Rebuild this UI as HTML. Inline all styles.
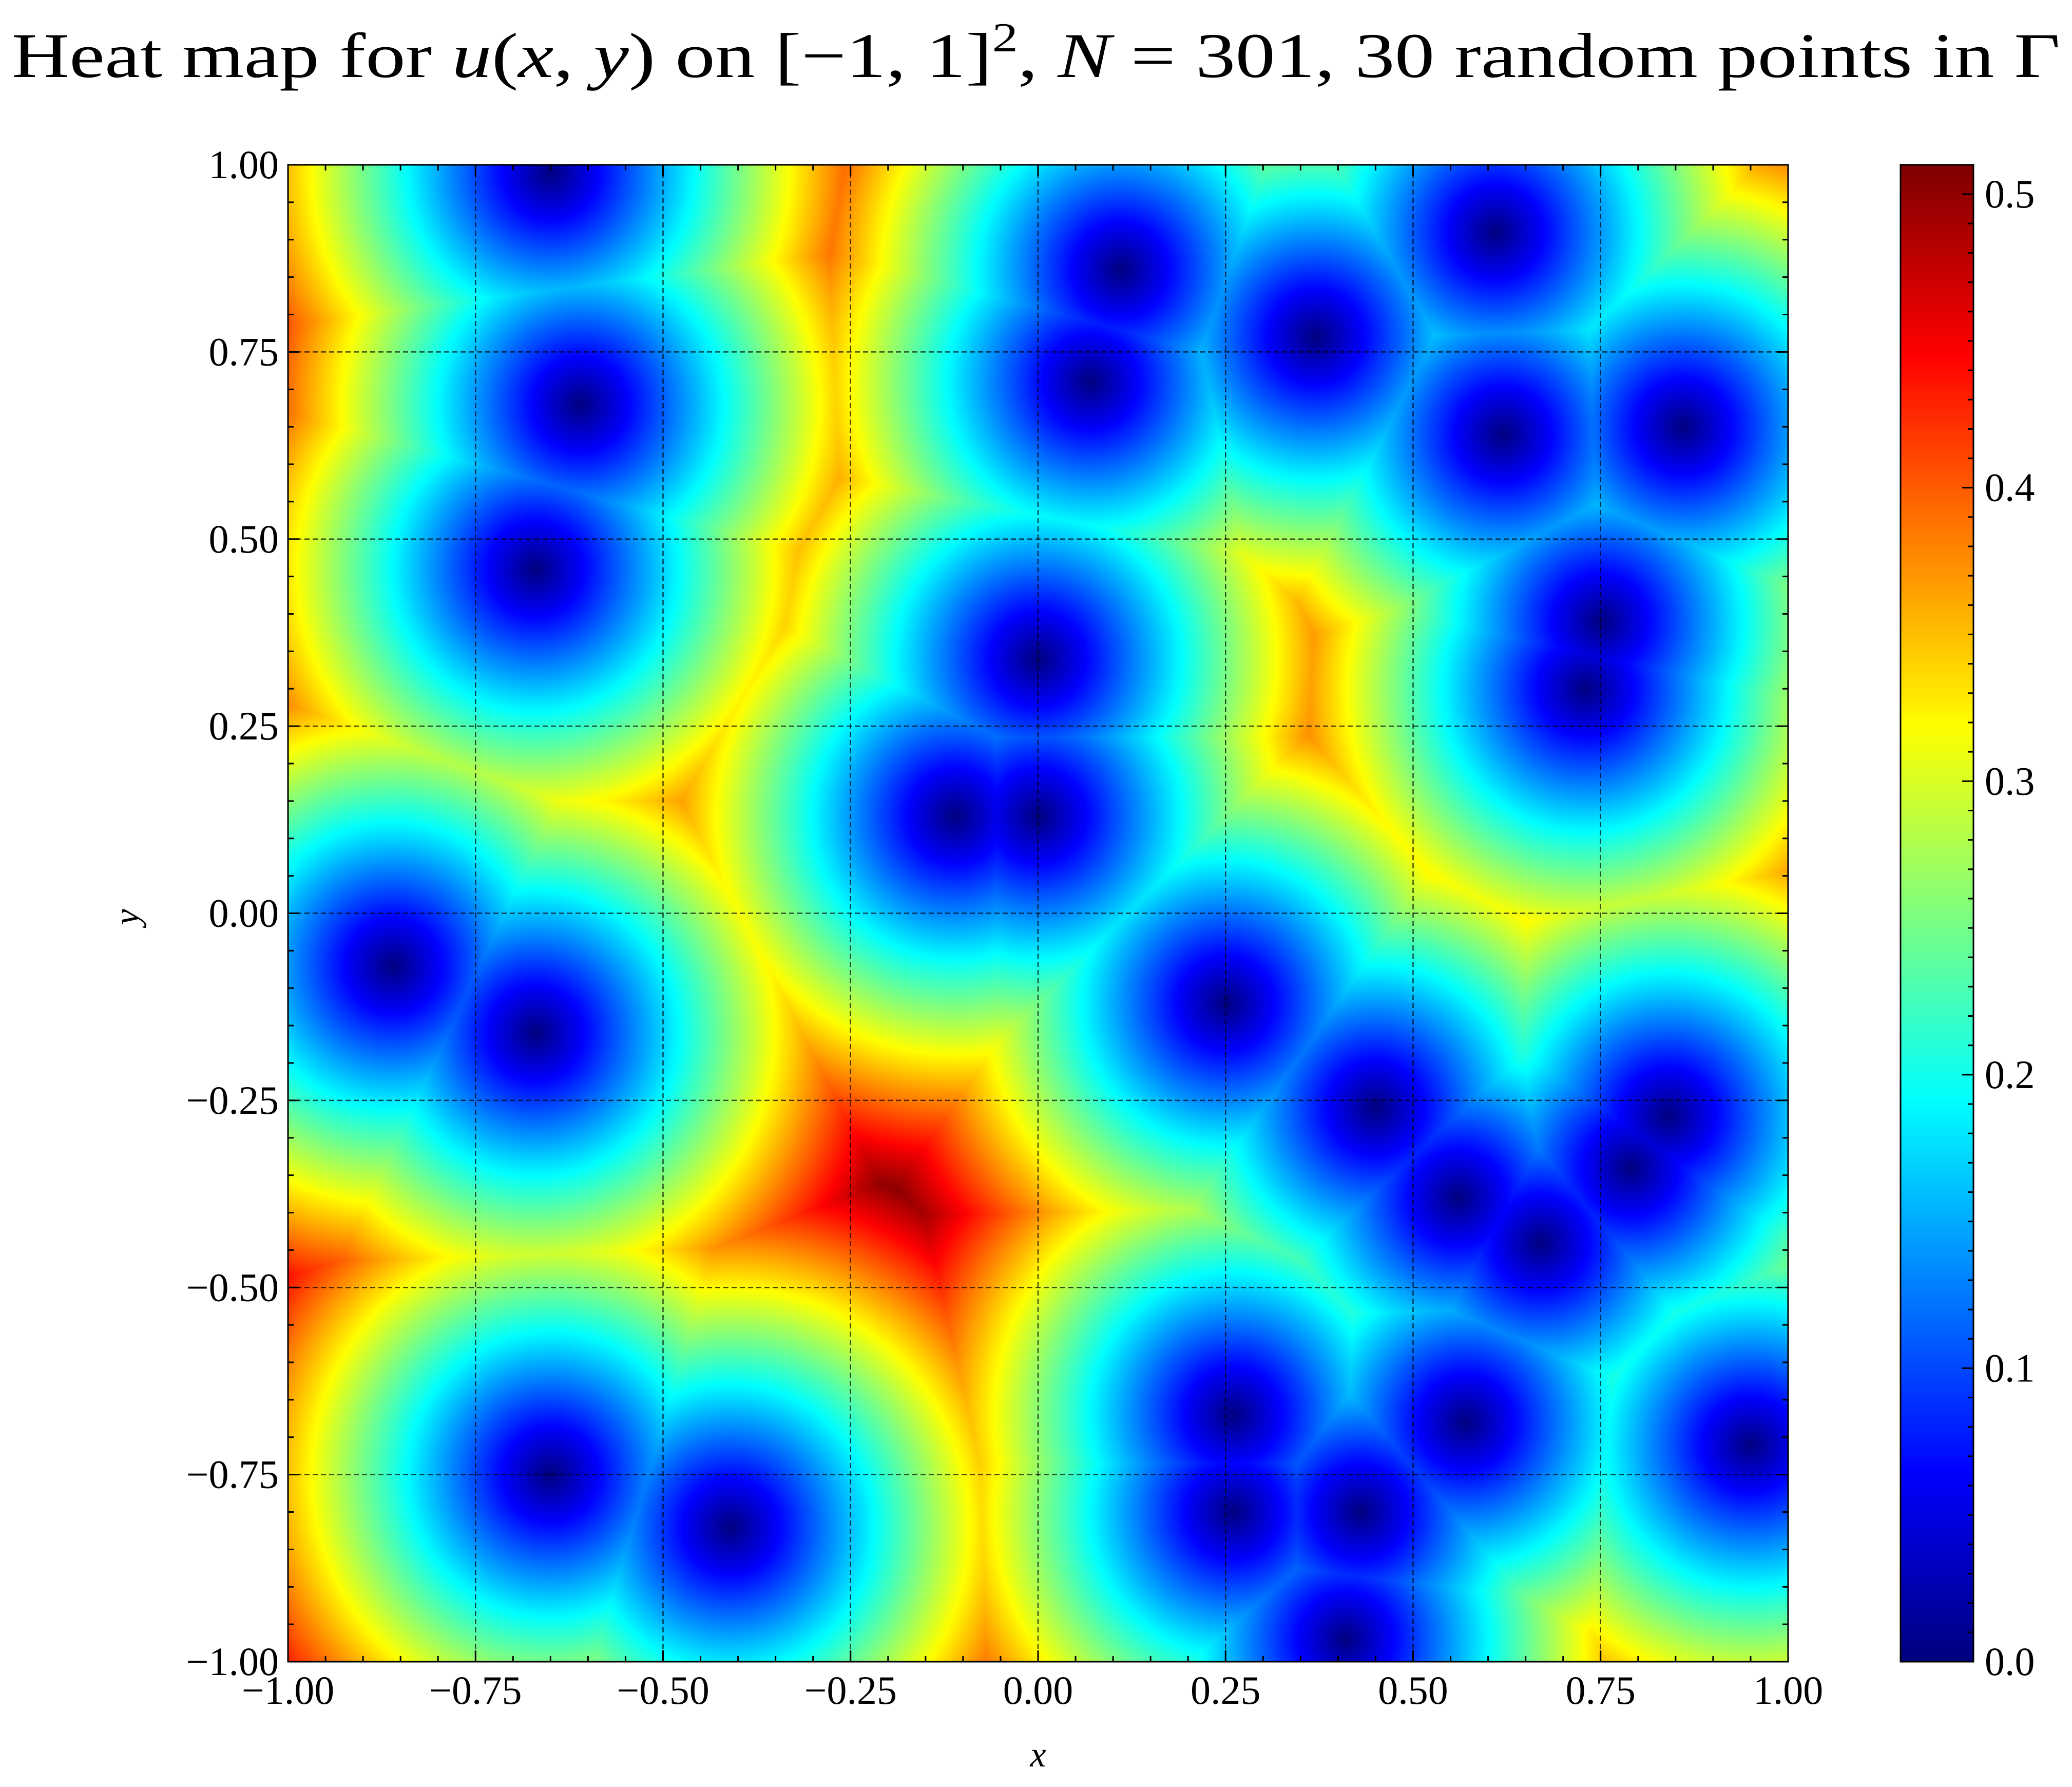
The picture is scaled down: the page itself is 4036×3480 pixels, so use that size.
<!DOCTYPE html>
<html><head><meta charset="utf-8">
<style>
html,body{margin:0;padding:0;background:#fff;}
#wrap{position:relative;width:4036px;height:3480px;overflow:hidden;}
canvas{position:absolute;}
svg{position:absolute;left:0;top:0;}
text{font-family:"Liberation Serif",serif;fill:#000;}
</style></head>
<body>
<div id="wrap">
<canvas id="heat"></canvas>
<canvas id="cbar"></canvas>
<svg id="svg" width="4036" height="3480">
<text x="2018" y="150" text-anchor="middle" font-size="124" textLength="3990" lengthAdjust="spacingAndGlyphs">Heat map for <tspan font-style="italic">u</tspan>(<tspan font-style="italic">x</tspan>, <tspan font-style="italic">y</tspan>) on [−1, 1]<tspan font-size="80" dy="-50">2</tspan><tspan dy="50">, </tspan><tspan font-style="italic">N</tspan> = 301, 30 random points in Γ</text>
<text x="2022" y="3440" text-anchor="middle" font-size="70" font-style="italic">x</text>
<text x="0" y="0" text-anchor="middle" font-size="70" font-style="italic" transform="translate(270,1786) rotate(-90)">y</text>
</svg>
</div>
<script>
// data: random points in Gamma (x, y)
const pointsX = [-0.65,-0.61,-0.67,0.11,0.07,0.37,0.61,0.62,0.86,0.0,0.75,0.73,-0.11,0.0,-0.86,-0.67,0.25,0.45,0.84,0.56,0.79,0.67,0.26,0.57,0.95,-0.65,-0.41,0.26,0.43,0.41];
const pointsY = [0.99,0.68,0.46,0.86,0.71,0.77,0.91,0.64,0.65,0.34,0.39,0.30,0.13,0.13,-0.07,-0.16,-0.12,-0.26,-0.27,-0.38,-0.34,-0.44,-0.67,-0.68,-0.71,-0.75,-0.82,-0.80,-0.80,-0.97];
const xTicks = [-1.00,-0.75,-0.50,-0.25,0.00,0.25,0.50,0.75,1.00];
const yTicks = [-1.00,-0.75,-0.50,-0.25,0.00,0.25,0.50,0.75,1.00];
const cbTicks = [0.0,0.1,0.2,0.3,0.4,0.5];
const vmin = 0, vmax = 0.51;

const L=561,R=3483,T=321,B=3236, CBL=3702,CBR=3844;
const sx = v => L + (v+1)/2*(R-L);
const sy = v => B - (v+1)/2*(B-T);
const cy = v => B - (v-vmin)/(vmax-vmin)*(B-T);

function jet(t){
  t=Math.max(0,Math.min(1,t));
  const f=(x)=>Math.max(0,Math.min(1,x));
  const r=f(1.5-Math.abs(4*t-3)), g=f(1.5-Math.abs(4*t-2)), b=f(1.5-Math.abs(4*t-1));
  return [r*255,g*255,b*255];
}

// heatmap
const N=600;
const hc=document.getElementById('heat');
hc.width=N;hc.height=N;
hc.style.left=L+'px';hc.style.top=T+'px';hc.style.width=(R-L)+'px';hc.style.height=(B-T)+'px';
const hctx=hc.getContext('2d');
const img=hctx.createImageData(N,N);
for(let j=0;j<N;j++){
  const y=1-2*(j+0.5)/N;
  for(let i=0;i<N;i++){
    const x=-1+2*(i+0.5)/N;
    let m=1e9;
    for(let k=0;k<pointsX.length;k++){
      const dx=x-pointsX[k],dy=y-pointsY[k];
      const d=dx*dx+dy*dy; if(d<m)m=d;
    }
    const c=jet((Math.sqrt(m)-vmin)/(vmax-vmin));
    const p=(j*N+i)*4;
    img.data[p]=c[0];img.data[p+1]=c[1];img.data[p+2]=c[2];img.data[p+3]=255;
  }
}
hctx.putImageData(img,0,0);

// colorbar
const cc=document.getElementById('cbar');
cc.width=1;cc.height=512;
cc.style.left=CBL+'px';cc.style.top=T+'px';cc.style.width=(CBR-CBL)+'px';cc.style.height=(B-T)+'px';
const cctx=cc.getContext('2d');
for(let j=0;j<512;j++){const c=jet(1-j/511);cctx.fillStyle=`rgb(${c[0]|0},${c[1]|0},${c[2]|0})`;cctx.fillRect(0,j,1,1);}

const svg=document.getElementById('svg');
const NS='http://www.w3.org/2000/svg';
function mk(tag,attrs){const e=document.createElementNS(NS,tag);for(const k in attrs)e.setAttribute(k,attrs[k]);svg.appendChild(e);return e;}
const fmt=v=>{let s=v.toFixed(2);return s.replace('-','−');};

// grid
xTicks.forEach(v=>{
  const l=mk('line',{x1:sx(v),x2:sx(v),y1:T,y2:B,stroke:'#000','stroke-width':2.5,'stroke-dasharray':'10 6','stroke-opacity':0.7});
  
  
});
yTicks.forEach(v=>{
  const l=mk('line',{x1:L,x2:R,y1:sy(v),y2:sy(v),stroke:'#000','stroke-width':2.5,'stroke-dasharray':'10 6','stroke-opacity':0.7});
  
  
});
// minor ticks
for(let k=-20;k<=20;k++){
  const v=k*0.05; const ln=(k%5===0)?22:11;
  let X=sx(v),Y=sy(v);
  mk('line',{x1:X,x2:X,y1:B,y2:B-ln,stroke:'#000','stroke-width':3});
  mk('line',{x1:X,x2:X,y1:T,y2:T+ln,stroke:'#000','stroke-width':3});
  mk('line',{x1:L,x2:L+ln,y1:Y,y2:Y,stroke:'#000','stroke-width':3});
  mk('line',{x1:R,x2:R-ln,y1:Y,y2:Y,stroke:'#000','stroke-width':3});
}
// frame
const fr=mk('rect',{x:L,y:T,width:R-L,height:B-T,fill:'none',stroke:'#000','stroke-width':3});


// tick labels
xTicks.forEach(v=>{
  const t=mk('text',{x:sx(v),y:B+82,'text-anchor':'middle','font-size':78});
  t.textContent=fmt(v);
  
  
});
yTicks.forEach(v=>{
  const t=mk('text',{x:L-18,y:sy(v)+26,'text-anchor':'end','font-size':78});
  t.textContent=fmt(v);
  
  
});
// colorbar frame + ticks
const cf=mk('rect',{x:CBL,y:T,width:CBR-CBL,height:B-T,fill:'none',stroke:'#000','stroke-width':3});


for(let k=0;k<=50;k++){
  const v=k*0.01; if(v>vmax)break;
  const ln=(k%10===0)?22:11;
  mk('line',{x1:CBR,x2:CBR-ln,y1:cy(v),y2:cy(v),stroke:'#000','stroke-width':3});
}
cbTicks.forEach(v=>{
  const t=mk('text',{x:CBR+22,y:cy(v)+26,'text-anchor':'start','font-size':78});
  t.textContent=v.toFixed(1);
  
  
});
</script>
</body></html>
